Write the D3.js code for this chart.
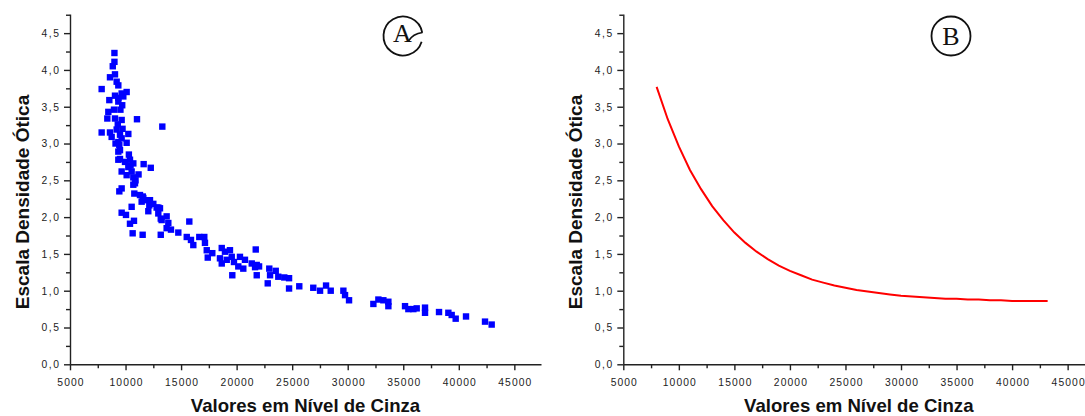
<!DOCTYPE html>
<html>
<head>
<meta charset="utf-8">
<script src="https://cdn.jsdelivr.net/npm/d3@7"></script>
<style>
  body { margin: 0; background: #fff; }
  svg { display: block; }
  .tick text { font-family: "Liberation Sans", Arial, sans-serif; font-size: 10.3px; fill: #222; }
  .axis-title { font-family: "Liberation Sans", Arial, sans-serif; font-weight: bold; font-size: 19px; fill: #111; }
  .x-title { font-size: 18.6px; }
  .badge { font-family: "Liberation Serif", "Times New Roman", serif; font-size: 26px; fill: #111; }
</style>
</head>
<body>
<div id="chart"></div>
<script>
// scatter (A): grey level vs optical density
const scatterX = [9000, 9000, 8850, 9050, 8600, 9200, 9350, 7850, 10100, 9650, 9050, 9800, 9350, 8540, 9350,
  8450, 8960, 9540, 8360, 9050, 9650, 11030, 13310, 7850, 8600, 9200, 9730, 8750, 9500, 10250,
  9650, 10100, 9350, 9440, 9500, 9350, 9500, 9350, 9950, 10400, 10700, 10250, 11630, 12270, 9650,
  10550, 10100, 11170, 10700, 10850, 10700, 9650, 9440, 10790, 11550, 11600, 11900, 12200, 11450, 12140,
  12800, 13100, 12950, 12050, 10550, 9650, 10040, 13170, 10760, 10400, 10640, 11540, 13170,
  12950, 13700, 13250, 13850, 15740, 13700, 14090, 14750, 15510, 15890, 16100, 16640, 17090, 17150,
  17310, 17810, 17400, 18660, 18950, 19400, 18500, 18660, 19110, 19560, 19760, 20300, 20750, 20150,
  20600, 21360, 21720, 21660, 22020, 19610, 21810, 21810, 22940, 23010, 23520, 23750, 24290, 24720,
  22800, 24720, 25640, 26900, 27510, 28050, 28470, 29610, 29760, 30120, 32310, 32760, 33210, 33660,
  33660, 35160, 35460, 35910, 36210, 36960, 36960, 38220, 39060, 39360, 39720, 40650, 42360, 42960,
  9300, 9700, 10300, 10900, 12500, 11300, 10450, 9100];
const scatterY = [4.23, 4.11, 4.05, 3.94, 3.90, 3.84, 3.79, 3.74, 3.70, 3.68, 3.65, 3.64, 3.62, 3.59, 3.57,
  3.43, 3.46, 3.46, 3.34, 3.34, 3.32, 3.33, 3.23, 3.15, 3.15, 3.19, 3.20, 3.09, 3.12, 3.13,
  3.07, 3.01, 3.02, 2.98, 2.91, 2.89, 2.79, 2.78, 2.75, 2.78, 2.73, 2.68, 2.72, 2.67, 2.62,
  2.62, 2.57, 2.58, 2.54, 2.46, 2.44, 2.39, 2.35, 2.32, 2.28, 2.26, 2.23, 2.23, 2.21, 2.16,
  2.13, 2.12, 2.13, 2.08, 2.14, 2.06, 2.03, 1.98, 1.95, 1.91, 1.78, 1.76, 1.76,
  2.05, 2.01, 1.96, 1.92, 1.94, 1.85, 1.83, 1.79, 1.73, 1.69, 1.62, 1.73, 1.73, 1.65,
  1.55, 1.51, 1.45, 1.58, 1.53, 1.55, 1.44, 1.37, 1.42, 1.46, 1.39, 1.46, 1.42, 1.33,
  1.30, 1.37, 1.56, 1.32, 1.33, 1.21, 1.21, 1.35, 1.30, 1.21, 1.27, 1.19, 1.18, 1.17,
  1.10, 1.03, 1.06, 1.04, 1.00, 1.07, 1.00, 1.00, 0.94, 0.87, 0.82, 0.88, 0.87, 0.85,
  0.79, 0.79, 0.75, 0.75, 0.76, 0.77, 0.70, 0.71, 0.70, 0.67, 0.62, 0.65, 0.58, 0.54,
  3.26, 3.52, 2.85, 2.50, 2.18, 2.30, 2.70, 3.00];

// fitted curve (B)
const curveX = [8000, 9000, 10000, 11000, 12000, 13000, 14000, 15000, 16000, 17000, 18000, 19000, 20000,
  21000, 22000, 23000, 24000, 25000, 26000, 27000, 28000, 29000, 30000, 31000, 32000, 33000, 34000,
  35000, 36000, 37000, 38000, 39000, 40000, 41000, 42000, 43200];
const curveY = [3.77, 3.33, 2.96, 2.64, 2.38, 2.15, 1.96, 1.79, 1.65, 1.53, 1.43, 1.34, 1.27,
  1.21, 1.15, 1.11, 1.07, 1.04, 1.01, 0.99, 0.97, 0.95, 0.93, 0.92, 0.91, 0.90, 0.89,
  0.89, 0.88, 0.88, 0.87, 0.87, 0.86, 0.86, 0.86, 0.86];

const xTicks = [5000, 10000, 15000, 20000, 25000, 30000, 35000, 40000, 45000];
const yTicks = [0, 0.5, 1.0, 1.5, 2.0, 2.5, 3.0, 3.5, 4.0, 4.5];
const xTitle = "Valores em Nível de Cinza";
const yTitle = "Escala Densidade Ótica";

const width = 1085, height = 416;
const plotW = 471, plotTop = 14, plotBottom = 364.3;

const svg = d3.select("#chart").append("svg")
  .attr("width", width)
  .attr("height", height);

const fmt = d => d3.format(".1f")(d).replace(".", ",");

function drawPanel(left) {
  const g = svg.append("g").attr("transform", `translate(${left},0)`);

  const xScale = d3.scaleLinear().domain([5000, 47400]).range([0, plotW]);
  const yScale = d3.scaleLinear().domain([0, 4.76]).range([plotBottom, plotTop]);

  // minor ticks
  const xMinor = d3.range(7500, 47400, 5000);
  const yMinor = d3.range(0.25, 4.76, 0.5);

  g.append("g")
    .attr("transform", `translate(0,${plotBottom})`)
    .call(d3.axisBottom(xScale).tickValues(xMinor).tickSize(4).tickFormat(""))
    .call(a => a.select(".domain").remove());
  g.append("g")
    .call(d3.axisLeft(yScale).tickValues(yMinor).tickSize(4).tickFormat(""))
    .call(a => a.select(".domain").remove());

  const xAxis = g.append("g")
    .attr("transform", `translate(0,${plotBottom})`)
    .call(d3.axisBottom(xScale).tickValues(xTicks).tickSize(6).tickPadding(8)
      .tickFormat(d3.format("d")).tickSizeOuter(0));
  xAxis.selectAll(".tick text").style("letter-spacing", "1.1px").attr("dx", "0.5px");

  const yAxis = g.append("g")
    .call(d3.axisLeft(yScale).tickValues(yTicks).tickSize(6).tickPadding(5).tickFormat(fmt).tickSizeOuter(0));
  yAxis.selectAll(".tick text").style("letter-spacing", "1.6px").attr("dx", "1.6px");

  g.selectAll(".domain, .tick line").attr("stroke", "#222").attr("stroke-width", 1.4);

  g.append("text")
    .attr("class", "axis-title")
    .attr("text-anchor", "middle")
    .attr("transform", `translate(${-41.5},202) rotate(-90)`)
    .text(yTitle);

  g.append("text")
    .attr("class", "axis-title x-title")
    .attr("text-anchor", "middle")
    .attr("x", plotW / 2)
    .attr("y", 411.5)
    .text(xTitle);

  return { g, xScale, yScale };
}

// panel A
const A = drawPanel(70);
A.g.append("g")
  .selectAll("rect")
  .data(scatterX.map((x, i) => [x, scatterY[i]]))
  .join("rect")
  .attr("x", d => A.xScale(d[0]) - 3.2)
  .attr("y", d => A.yScale(d[1]) - 3.2)
  .attr("width", 6.4)
  .attr("height", 6.4)
  .attr("fill", "#0000ff");

// badge A (circle with a hooked stroke on the right)
const arcA = d3.arc().innerRadius(19.5).outerRadius(19.5)
  .startAngle(Math.PI / 2 + 0.3).endAngle(Math.PI / 2 + 2 * Math.PI - 0.17);
svg.append("path")
  .attr("transform", "translate(403,36)")
  .attr("d", arcA())
  .attr("fill", "none")
  .attr("stroke", "#111")
  .attr("stroke-width", 1.8);
svg.append("path")
  .attr("d", "M408,41.5 Q413,33.5 422.5,32.5")
  .attr("fill", "none")
  .attr("stroke", "#111")
  .attr("stroke-width", 1.6);
svg.append("text").attr("class", "badge")
  .attr("x", 402.5).attr("y", 42).attr("text-anchor", "middle").text("A");

// panel B
const B = drawPanel(623.3);
const line = d3.line()
  .x((d, i) => B.xScale(d))
  .y((d, i) => B.yScale(curveY[i]));
B.g.append("path")
  .attr("d", line(curveX))
  .attr("fill", "none")
  .attr("stroke", "#ff0000")
  .attr("stroke-width", 2);

svg.append("circle")
  .attr("cx", 951).attr("cy", 36).attr("r", 19.5)
  .attr("fill", "none").attr("stroke", "#111").attr("stroke-width", 1.8);
svg.append("text").attr("class", "badge")
  .attr("x", 951).attr("y", 45).attr("text-anchor", "middle").text("B");
</script>
</body>
</html>
